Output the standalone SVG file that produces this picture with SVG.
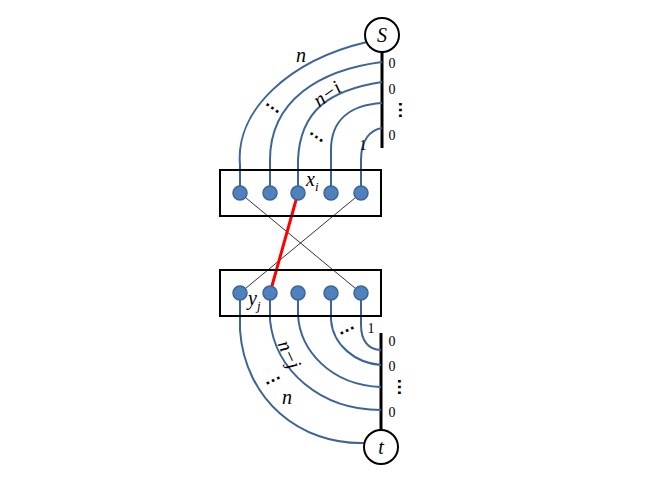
<svg xmlns="http://www.w3.org/2000/svg" width="664" height="498" viewBox="0 0 664 498">
<style>
.w{fill:none;stroke:#3d6496;stroke-width:2}
.d{fill:#4f81bd;stroke:#3d6496;stroke-width:1.5}
.b{fill:#fff;stroke:#000;stroke-width:2}
.t{font-family:"Liberation Serif",serif;font-size:14px;fill:#000}
.i{font-family:"Liberation Serif",serif;font-style:italic;font-size:20px;fill:#000}
.dots{font-family:"Liberation Sans",sans-serif;font-weight:bold;font-size:18px;fill:#000}
</style>
<rect width="664" height="498" fill="#fff"/>
<g id="connectors">
<line x1="382" y1="52" x2="382" y2="148" stroke="#000" stroke-width="3"/>
<line x1="381" y1="333" x2="381" y2="430" stroke="#000" stroke-width="3"/>
<path class="w" d="M240 193 V165 C235 110 290 60 367 42"/>
<path class="w" d="M270 193 V160 C270 100 320 70 382 62"/>
<path class="w" d="M298 193 V160 C300 110 330 90 382 82"/>
<path class="w" d="M331 193 V150 C331 120 350 105 382 103"/>
<path class="w" d="M361 193 V160 C361 140 370 130 382 128"/>
<line x1="240" y1="193" x2="361" y2="293" stroke="#000" stroke-width="0.8"/>
<line x1="361" y1="193" x2="240" y2="293" stroke="#000" stroke-width="0.8"/>
<line x1="298" y1="193" x2="270" y2="293" stroke="#f00" stroke-width="3"/>
<path class="w" d="M240 293 V330 C245 400 300 445 365 443"/>
<path class="w" d="M270 293 V320 C275 370 320 410 381 410"/>
<path class="w" d="M298 293 V315 C300 350 330 385 381 387"/>
<path class="w" d="M331 293 V320 C333 345 355 363 381 365"/>
<path class="w" d="M361 293 V325 C361 340 368 350 381 350"/>
</g>
<g id="S"><circle cx="382" cy="35" r="17" class="b"/><text x="382" y="42" text-anchor="middle" class="i">S</text></g>
<g id="T"><circle cx="381" cy="447" r="17" class="b"/><text x="381" y="454" text-anchor="middle" class="i">t</text></g>
<g id="top"><rect x="220" y="170" width="161" height="46" fill="none" stroke="#000" stroke-width="2"/>
<circle cx="240" cy="193" r="7" class="d"/><circle cx="270" cy="193" r="7" class="d"/><circle cx="298" cy="193" r="7" class="d"/><circle cx="331" cy="193" r="7" class="d"/><circle cx="361" cy="193" r="7" class="d"/></g>
<g id="bottom"><rect x="220" y="270" width="161" height="46" fill="none" stroke="#000" stroke-width="2"/>
<circle cx="240" cy="293" r="7" class="d"/><circle cx="270" cy="293" r="7" class="d"/><circle cx="298" cy="293" r="7" class="d"/><circle cx="331" cy="293" r="7" class="d"/><circle cx="361" cy="293" r="7" class="d"/></g>
<g id="labels">
<text x="301" y="62" text-anchor="middle" class="i" font-size="17">n</text>
<text x="392" y="68" text-anchor="middle" class="t">0</text>
<text x="392" y="94" text-anchor="middle" class="t">0</text>
<text x="392" y="140" text-anchor="middle" class="t">0</text>
<text x="393" y="104" text-anchor="middle" class="dots" transform="rotate(90 393 110)">…</text>
<text x="363" y="150" text-anchor="middle" class="t">1</text>
<text x="328" y="100" text-anchor="middle" class="i" font-size="17" transform="rotate(-35 328 95)">n−i</text>
<text x="274" y="110" text-anchor="middle" class="dots" transform="rotate(35 274 106)">…</text>
<text x="318" y="139" text-anchor="middle" class="dots" transform="rotate(35 318 135)">…</text>
<text x="306" y="186" class="i">x<tspan font-size="13" dy="5">i</tspan></text>
<text x="248" y="305" class="i">y<tspan font-size="13" dy="5">j</tspan></text>
<text x="371" y="333" text-anchor="middle" class="t">1</text>
<text x="392" y="346" text-anchor="middle" class="t">0</text>
<text x="392" y="371" text-anchor="middle" class="t">0</text>
<text x="392" y="417" text-anchor="middle" class="t">0</text>
<text x="392" y="381" text-anchor="middle" class="dots" transform="rotate(90 392 387)">…</text>
<text x="346" y="332" text-anchor="middle" class="dots" transform="rotate(-25 346 328)">…</text>
<text x="272" y="382" text-anchor="middle" class="dots" transform="rotate(-25 272 378)">…</text>
<text x="287" y="404" text-anchor="middle" class="i" font-size="17">n</text>
<text x="288" y="360" text-anchor="middle" class="i" font-size="17" transform="rotate(65 288 355)">n−j</text>
</g>
</svg>
